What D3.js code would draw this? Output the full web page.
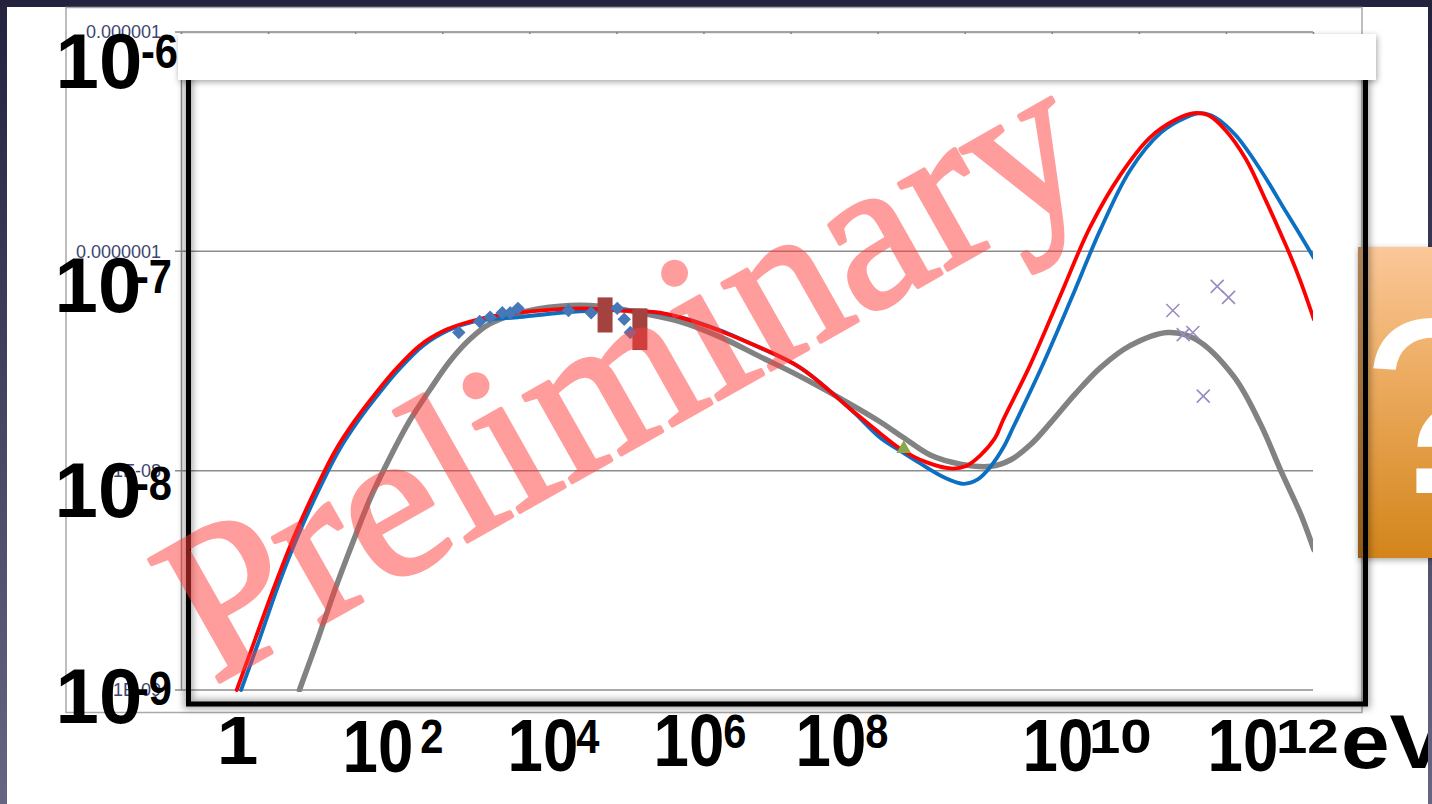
<!DOCTYPE html>
<html>
<head>
<meta charset="utf-8">
<script src="https://cdn.jsdelivr.net/npm/d3@7"></script>
<style>
  html, body { margin: 0; padding: 0; background: #2a2a46; }
  svg { display: block; }
</style>
</head>
<body>
<svg id="chart" width="1432" height="804"></svg>
<script>
// ---- Spectral energy distribution: log10(E / eV) against log10(flux) ----

// Model curve 1 (red)
const redLogE = [0.00,0.21,0.44,0.67,0.90,1.13,1.36,1.59,1.82,2.10,2.39,2.68,3.02,3.48,3.94,4.40,4.86,5.32,5.90,6.47,7.05,7.39,7.62,7.91,8.20,8.37,8.54,8.71,8.80,9.11,9.46,9.80,10.15,10.49,10.78,10.99,11.16,11.36,11.59,11.82,11.99,12.10,12.22,12.37];
const redLogF = [-9.00,-8.77,-8.52,-8.29,-8.09,-7.91,-7.77,-7.65,-7.54,-7.43,-7.36,-7.32,-7.29,-7.27,-7.26,-7.27,-7.28,-7.33,-7.42,-7.53,-7.72,-7.83,-7.90,-7.96,-7.99,-7.98,-7.93,-7.85,-7.77,-7.52,-7.20,-6.89,-6.65,-6.48,-6.40,-6.37,-6.38,-6.45,-6.58,-6.77,-6.92,-7.02,-7.14,-7.31];

// Model curve 2 (blue)
const blueLogE = [0.05,0.26,0.48,0.71,0.94,1.17,1.40,1.63,1.86,2.14,2.43,2.72,3.25,3.71,4.17,4.63,5.09,5.55,6.01,6.47,7.05,7.39,7.62,7.82,8.12,8.35,8.51,8.66,8.81,8.92,9.23,9.58,9.92,10.26,10.61,10.90,11.07,11.24,11.47,11.76,12.05,12.22,12.37];
const blueLogF = [-9.00,-8.77,-8.52,-8.29,-8.09,-7.91,-7.77,-7.65,-7.54,-7.43,-7.36,-7.32,-7.30,-7.28,-7.27,-7.27,-7.30,-7.36,-7.44,-7.53,-7.72,-7.85,-7.91,-7.96,-8.03,-8.06,-8.04,-7.98,-7.89,-7.80,-7.54,-7.22,-6.90,-6.63,-6.46,-6.39,-6.37,-6.39,-6.47,-6.63,-6.82,-6.93,-7.03];

// Model curve 3 (grey)
const grayLogE = [0.72,0.93,1.13,1.32,1.53,1.76,1.99,2.22,2.45,2.68,2.91,3.25,3.71,4.17,4.63,5.09,5.55,6.01,6.47,6.93,7.36,7.66,7.97,8.31,8.66,8.89,9.12,9.35,9.63,9.92,10.26,10.69,11.01,11.45,11.76,11.99,12.22,12.37];
const grayLogF = [-9.00,-8.77,-8.54,-8.34,-8.13,-7.94,-7.77,-7.63,-7.50,-7.40,-7.33,-7.28,-7.25,-7.25,-7.28,-7.32,-7.39,-7.48,-7.57,-7.67,-7.77,-7.85,-7.93,-7.97,-7.98,-7.95,-7.88,-7.78,-7.65,-7.53,-7.43,-7.37,-7.40,-7.57,-7.79,-8.00,-8.20,-8.36];

// X-ray points (diamonds)
const diamondLogE = [2.55,2.79,2.91,3.05,3.14,3.23,3.81,4.07,4.37,4.45,4.52];
const diamondLogF = [-7.37,-7.32,-7.30,-7.28,-7.28,-7.26,-7.27,-7.28,-7.26,-7.31,-7.37];

// Hard X-ray ranges (bars, low..high)
const barLogE  = [4.23, 4.63];
const barLow   = [-7.37, -7.45];
const barHigh  = [-7.21, -7.26];

// GeV point (triangle)
const triLogE = [7.66];
const triLogF = [-7.90];

// TeV points (crosses)
const crossLogE = [10.75,10.87,10.98,11.26,11.39,11.10];
const crossLogF = [-7.27,-7.38,-7.37,-7.16,-7.21,-7.66];

// Axis ticks
const yTickPowers = [-9, -8, -7, -6];
const yTickText   = ["1E-09", "1E-08", "0.0000001", "0.000001"];
const yBigPowers  = [-6, -7, -8, -9];
const xBigPowers  = [0, 2, 4, 6, 8, 10, 12];
const xUnit = "eV";

// ---- layout ----
const W = 1432, H = 804;
const xDomain = [-0.64, 12.36];
const x = d3.scaleLinear().domain(xDomain).range([181, 1313]);
const y = d3.scaleLinear().domain([-9, -6]).range([690, 32]);

// hand-placed big labels: [main x, main baseline, sup x, sup baseline]
const yBigLayout = [
  [55.5, 88, 141, 68],
  [54.5, 312, 135, 293],
  [54.5, 517, 135, 500],
  [55.5, 723, 135, 705]
];
const xBigLayout = [
  [216.8, 764, 0, 0],
  [342.5, 772, 420.3, 753],
  [507.5, 771, 576.3, 753],
  [653.5, 766, 723.3, 748],
  [795.5, 766, 865.3, 748],
  [1022.5, 771, 1089, 753],
  [1207.5, 771, 1276, 753]
];

const svg = d3.select("#chart");
const defs = svg.append("defs");

const bgGrad = defs.append("linearGradient").attr("id", "bgGrad")
  .attr("x1", 0).attr("y1", 0).attr("x2", 0).attr("y2", 1);
bgGrad.append("stop").attr("offset", "0%").attr("stop-color", "#23233e");
bgGrad.append("stop").attr("offset", "100%").attr("stop-color", "#666680");

const orGrad = defs.append("linearGradient").attr("id", "orGrad")
  .attr("x1", 0).attr("y1", 0).attr("x2", 0).attr("y2", 1);
orGrad.append("stop").attr("offset", "0%").attr("stop-color", "#fbc899");
orGrad.append("stop").attr("offset", "45%").attr("stop-color", "#eba95c");
orGrad.append("stop").attr("offset", "100%").attr("stop-color", "#d3851b");

const edgeGrad = defs.append("linearGradient").attr("id", "edgeGrad")
  .attr("x1", 0).attr("y1", 0).attr("x2", 1).attr("y2", 0);
edgeGrad.append("stop").attr("offset", "0%").attr("stop-color", "#6b3d10").attr("stop-opacity", 0.45);
edgeGrad.append("stop").attr("offset", "100%").attr("stop-color", "#6b3d10").attr("stop-opacity", 0);

const blur = defs.append("filter").attr("id", "soft")
  .attr("x", "-5%").attr("y", "-5%").attr("width", "110%").attr("height", "110%");
blur.append("feGaussianBlur").attr("stdDeviation", 3.5);

const shadow = defs.append("filter").attr("id", "shadow")
  .attr("x", "-10%").attr("y", "-10%").attr("width", "120%").attr("height", "130%");
shadow.append("feDropShadow").attr("dx", 1).attr("dy", 2).attr("stdDeviation", 3)
  .attr("flood-color", "#000").attr("flood-opacity", 0.35);

defs.append("clipPath").attr("id", "slideClip")
  .append("rect").attr("x", 7).attr("y", 7).attr("width", 1421).attr("height", 797);
defs.append("clipPath").attr("id", "plotClip")
  .append("rect").attr("x", 181).attr("y", 28).attr("width", 1132).attr("height", 664);

// page and slide
svg.append("rect").attr("width", W).attr("height", H).attr("fill", "url(#bgGrad)");
svg.append("rect").attr("x", 7).attr("y", 7).attr("width", 1421).attr("height", 797).attr("fill", "#fff");

// ---- spreadsheet-style chart ----
const chart = svg.append("g");
chart.append("rect").attr("x", 66).attr("y", 7.5).attr("width", 1296).attr("height", 705)
  .attr("fill", "#fff").attr("stroke", "#a9a9a9").attr("stroke-width", 1.5);

chart.selectAll("line.grid").data(yTickPowers).join("line").attr("class", "grid")
  .attr("x1", 175).attr("x2", x.range()[1])
  .attr("y1", d => y(d)).attr("y2", d => y(d))
  .attr("stroke", "#8c8c8c").attr("stroke-width", 1.5);

const yAxis = chart.append("g").attr("transform", "translate(181,0)")
  .call(d3.axisLeft(y).tickValues(yTickPowers).tickFormat((d, i) => yTickText[i])
    .tickSize(0).tickPadding(20));
yAxis.select(".domain").attr("stroke", "#8c8c8c").attr("stroke-width", 1.5);
yAxis.selectAll("text").attr("font-family", "'Liberation Sans', Arial, sans-serif")
  .attr("font-size", 18).attr("fill", "#3d4572");

const xTop = chart.append("g").attr("transform", "translate(0,32)")
  .call(d3.axisBottom(x).tickValues(d3.range(14).map(k => xDomain[0] + k))
    .tickSize(6).tickFormat(""));
xTop.select(".domain").remove();
xTop.selectAll("line").attr("stroke", "#8c8c8c").attr("stroke-width", 1.5);

const plot = chart.append("g").attr("clip-path", "url(#plotClip)");
const line = d3.line().x(d => x(d[0])).y(d => y(d[1])).curve(d3.curveCatmullRom.alpha(0.5));
const pairs = (E, F) => E.map((e, i) => [e, F[i]]);

plot.append("path").datum(pairs(grayLogE, grayLogF)).attr("d", line)
  .attr("fill", "none").attr("stroke", "#828282").attr("stroke-width", 5.5).attr("stroke-linecap", "round");
plot.append("path").datum(pairs(blueLogE, blueLogF)).attr("d", line)
  .attr("fill", "none").attr("stroke", "#0b6fc2").attr("stroke-width", 3.8).attr("stroke-linecap", "round");
plot.append("path").datum(pairs(redLogE, redLogF)).attr("d", line)
  .attr("fill", "none").attr("stroke", "#ff0000").attr("stroke-width", 3.8).attr("stroke-linecap", "round");

// bars
plot.selectAll("rect.bar").data(barLogE).join("rect").attr("class", "bar")
  .attr("x", d => x(d) - 7.5).attr("width", 15)
  .attr("y", (d, i) => y(barHigh[i])).attr("height", (d, i) => y(barLow[i]) - y(barHigh[i]))
  .attr("fill", "#a3423e");

// diamonds
const sq = d3.symbol(d3.symbolSquare, 90);
plot.selectAll("path.dia").data(pairs(diamondLogE, diamondLogF)).join("path").attr("class", "dia")
  .attr("d", sq).attr("transform", d => `translate(${x(d[0])},${y(d[1])}) rotate(45)`)
  .attr("fill", "#4677b6");

// triangle
plot.selectAll("path.tri").data(pairs(triLogE, triLogF)).join("path").attr("class", "tri")
  .attr("d", d3.symbol(d3.symbolTriangle, 95))
  .attr("transform", d => `translate(${x(d[0])},${y(d[1])})`)
  .attr("fill", "#8ba74b");

// crosses
plot.selectAll("path.crs").data(pairs(crossLogE, crossLogF)).join("path").attr("class", "crs")
  .attr("d", d => {
    const cx = x(d[0]), cy = y(d[1]), r = 6.5;
    return `M${cx - r},${cy - r}L${cx + r},${cy + r}M${cx - r},${cy + r}L${cx + r},${cy - r}`;
  })
  .attr("fill", "none").attr("stroke", "#9a8bc2").attr("stroke-width", 1.6);

// ---- orange question box ----
const qbox = svg.append("g");
qbox.append("rect").attr("x", 1358).attr("y", 247).attr("width", 80).attr("height", 311)
  .attr("fill", "url(#orGrad)").attr("filter", "url(#shadow)");
qbox.append("rect").attr("x", 1358).attr("y", 247).attr("width", 10).attr("height", 311)
  .attr("fill", "url(#edgeGrad)");
qbox.append("text").attr("x", 1363).attr("y", 493)
  .attr("font-family", "'Liberation Sans', Arial, sans-serif").attr("font-size", 250)
  .attr("fill", "#fff").text("?");

// ---- black frame with soft glow ----
const frame = svg.append("g");
frame.append("rect").attr("x", 188.5).attr("y", 60).attr("width", 1177).attr("height", 644)
  .attr("fill", "none").attr("stroke", "#000").attr("stroke-opacity", 0.35)
  .attr("stroke-width", 9).attr("filter", "url(#soft)");
frame.append("rect").attr("x", 188.5).attr("y", 60).attr("width", 1177).attr("height", 644)
  .attr("fill", "none").attr("stroke", "#000").attr("stroke-width", 5);

// white title strip
svg.append("rect").attr("x", 178).attr("y", 34).attr("width", 1198).attr("height", 46)
  .attr("fill", "#fff").attr("filter", "url(#shadow)");

// ---- big hand-placed axis labels ----
const big = svg.append("g").attr("clip-path", "url(#slideClip)");
const bigFont = "'Liberation Sans', Arial, Helvetica, sans-serif";
function put(str, tx, base, fs, sx) {
  big.append("text").attr("transform", `translate(${tx},${base}) scale(${sx},1)`)
    .attr("font-family", bigFont).attr("font-weight", "bold").attr("font-size", fs)
    .attr("fill", "#000").text(str);
}
yBigPowers.forEach((p, i) => {
  const L = yBigLayout[i];
  put("10", L[0], L[1], 78, 1);
  put("-" + Math.abs(p), L[2], L[3], 49, 0.85);
});
xBigPowers.forEach((p, i) => {
  const L = xBigLayout[i];
  if (p === 0) { put("1", L[0], L[1], 68, 1.1); return; }
  put("10", L[0], L[1], 74, 0.86);
  const s = String(p);
  put(s, L[2], L[3], 49, s.length > 1 ? 1.15 : 0.85);
});
put(xUnit, 1341, 768, 76, 1.15);

// ---- watermark ----
svg.append("g").attr("opacity", 0.5)
  .append("text").attr("transform", "translate(625,378) rotate(-29.5)")
  .attr("text-anchor", "middle").attr("dy", "0.3em")
  .attr("font-family", "'Liberation Serif', 'Times New Roman', serif").attr("font-size", 216)
  .attr("fill", "#ff3b3b").attr("stroke", "#ff3b3b").attr("stroke-width", 4)
  .attr("stroke-linejoin", "round").text("Preliminary");
</script>
</body>
</html>
